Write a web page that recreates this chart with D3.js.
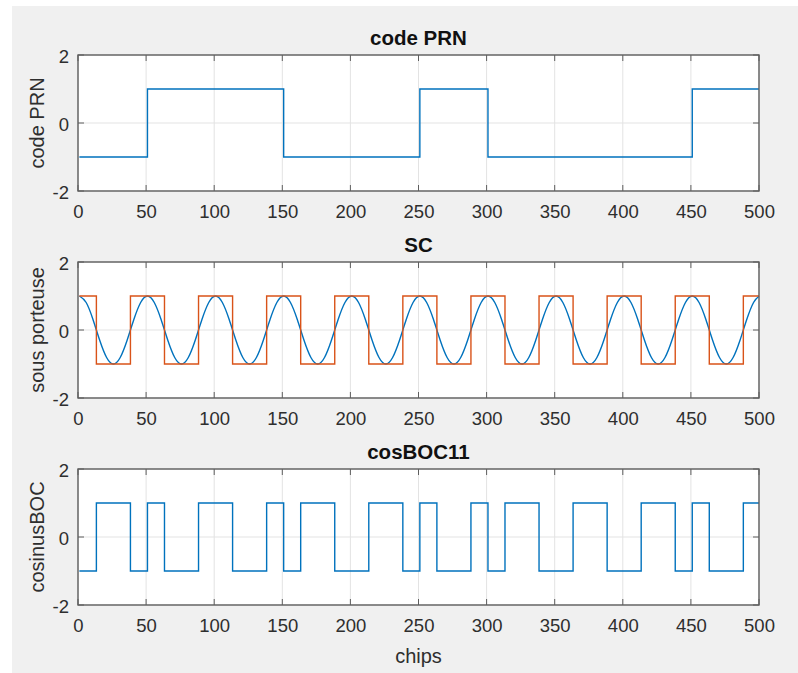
<!DOCTYPE html>
<html>
<head>
<meta charset="utf-8">
<script src="https://cdn.jsdelivr.net/npm/d3@7"></script>
<style>
  html, body { margin: 0; padding: 0; background: #ffffff; }
  svg { display: block; }
  text { font-family: "Liberation Sans", Arial, Helvetica, sans-serif; }
</style>
</head>
<body>
<svg id="fig" width="798" height="673"></svg>
<script>
// ---- data -------------------------------------------------------------
// sample indices run 1..500 ("chips" axis)
const xTicks = [0, 50, 100, 150, 200, 250, 300, 350, 400, 450, 500];
const yTicks = [-2, 0, 2];

// PRN code: [start index, level], each level held until the next start
const prnSteps = [[1, -1], [51, 1], [151, -1], [251, 1], [301, -1], [451, 1]];

// square sub-carrier: [start index, level]
const scSquareSteps = [
  [1, 1], [13.5, -1], [38.5, 1], [63.5, -1], [88.5, 1], [113.5, -1],
  [138.5, 1], [163.5, -1], [188.5, 1], [213.5, -1], [238.5, 1],
  [263.5, -1], [288.5, 1], [313.5, -1], [338.5, 1], [363.5, -1],
  [388.5, 1], [413.5, -1], [438.5, 1], [463.5, -1], [488.5, 1]
];

// cosine sub-carrier, sampled every 5 indices starting at 1, last at 500
const scCosT = [
  1, 6, 11, 16, 21, 26, 31, 36, 41, 46, 51, 56, 61, 66, 71, 76, 81, 86, 91, 96,
  101, 106, 111, 116, 121, 126, 131, 136, 141, 146, 151, 156, 161, 166, 171, 176, 181, 186, 191, 196,
  201, 206, 211, 216, 221, 226, 231, 236, 241, 246, 251, 256, 261, 266, 271, 276, 281, 286, 291, 296,
  301, 306, 311, 316, 321, 326, 331, 336, 341, 346, 351, 356, 361, 366, 371, 376, 381, 386, 391, 396,
  401, 406, 411, 416, 421, 426, 431, 436, 441, 446, 451, 456, 461, 466, 471, 476, 481, 486, 491, 496,
  500
];
const scCosV = [
  1, 0.809, 0.309, -0.309, -0.809, -1, -0.809, -0.309, 0.309, 0.809,
  1, 0.809, 0.309, -0.309, -0.809, -1, -0.809, -0.309, 0.309, 0.809,
  1, 0.809, 0.309, -0.309, -0.809, -1, -0.809, -0.309, 0.309, 0.809,
  1, 0.809, 0.309, -0.309, -0.809, -1, -0.809, -0.309, 0.309, 0.809,
  1, 0.809, 0.309, -0.309, -0.809, -1, -0.809, -0.309, 0.309, 0.809,
  1, 0.809, 0.309, -0.309, -0.809, -1, -0.809, -0.309, 0.309, 0.809,
  1, 0.809, 0.309, -0.309, -0.809, -1, -0.809, -0.309, 0.309, 0.809,
  1, 0.809, 0.309, -0.309, -0.809, -1, -0.809, -0.309, 0.309, 0.809,
  1, 0.809, 0.309, -0.309, -0.809, -1, -0.809, -0.309, 0.309, 0.809,
  1, 0.809, 0.309, -0.309, -0.809, -1, -0.809, -0.309, 0.309, 0.809,
  0.992
];

// cosine BOC(1,1) = PRN x square sub-carrier: [start index, level]
const bocSteps = [
  [1, -1], [13.5, 1], [38.5, -1], [51, 1], [63.5, -1], [88.5, 1],
  [113.5, -1], [138.5, 1], [151, -1], [163.5, 1], [188.5, -1],
  [213.5, 1], [238.5, -1], [251, 1], [263.5, -1], [288.5, 1],
  [301, -1], [313.5, 1], [338.5, -1], [363.5, 1], [388.5, -1],
  [413.5, 1], [438.5, -1], [451, 1], [463.5, -1], [488.5, 1]
];
const lastIndex = 500;

// ---- layout -----------------------------------------------------------
const svg = d3.select("#fig");
const W = 798, H = 673;
const blue = "#0072BD", orange = "#D95319";
const axisColor = "#5e5e5e", textColor = "#2e2e2e", gridColor = "#e3e3e3";

svg.append("rect").attr("x", 12).attr("y", 6).attr("width", W - 12).attr("height", H - 6)
  .attr("fill", "#f0f0f0");

const left = 78, right = 759, plotH = 136;
const x = d3.scaleLinear().domain([0, 500]).range([left, right]);

const panels = [
  { top: 55,  title: "code PRN", ylabel: "code PRN" },
  { top: 262, title: "SC",       ylabel: "sous porteuse" },
  { top: 469, title: "cosBOC11", ylabel: "cosinusBOC" }
];

function stepPoints(steps) {
  const pts = steps.map(d => [d[0], d[1]]);
  pts.push([lastIndex, steps[steps.length - 1][1]]);
  return pts;
}

panels.forEach((p, i) => {
  const y = d3.scaleLinear().domain([-2, 2]).range([p.top + plotH, p.top]);
  const g = svg.append("g");

  g.append("rect").attr("x", left).attr("y", p.top).attr("width", right - left).attr("height", plotH)
    .attr("fill", "#ffffff");

  // grid
  g.append("g").selectAll("line").data(xTicks).join("line")
    .attr("x1", d => x(d)).attr("x2", d => x(d)).attr("y1", p.top).attr("y2", p.top + plotH)
    .attr("stroke", gridColor).attr("stroke-width", 1);
  g.append("g").selectAll("line").data(yTicks).join("line")
    .attr("x1", left).attr("x2", right).attr("y1", d => y(d)).attr("y2", d => y(d))
    .attr("stroke", gridColor).attr("stroke-width", 1);

  // data
  const line = d3.line().x(d => x(d[0])).y(d => y(d[1]));
  const plot = g.append("g");
  if (i === 0) {
    plot.append("path").datum(stepPoints(prnSteps))
      .attr("d", line.curve(d3.curveStepAfter)).attr("fill", "none")
      .attr("stroke", blue).attr("stroke-width", 1.4);
  } else if (i === 1) {
    const cos = scCosT.map((t, k) => [t, scCosV[k]]);
    plot.append("path").datum(cos)
      .attr("d", d3.line().x(d => x(d[0])).y(d => y(d[1])).curve(d3.curveNatural))
      .attr("fill", "none").attr("stroke", blue).attr("stroke-width", 1.4);
    plot.append("path").datum(stepPoints(scSquareSteps))
      .attr("d", d3.line().x(d => x(d[0])).y(d => y(d[1])).curve(d3.curveStepAfter))
      .attr("fill", "none").attr("stroke", orange).attr("stroke-width", 1.4);
  } else {
    plot.append("path").datum(stepPoints(bocSteps))
      .attr("d", line.curve(d3.curveStepAfter)).attr("fill", "none")
      .attr("stroke", blue).attr("stroke-width", 1.4);
  }

  // axes (ticks inward, mirrored on all sides)
  const tickLen = 6;
  const xb = d3.axisBottom(x).tickValues(xTicks).tickSize(0).tickPadding(0).tickFormat(d => String(d));
  const axB = g.append("g").attr("transform", `translate(0,${p.top + plotH})`).call(xb);
  axB.select(".domain").remove();
  axB.selectAll("text").attr("dy", null).attr("y", 27).attr("fill", textColor)
    .style("font-size", "18.5px");

  const yl = d3.axisLeft(y).tickValues(yTicks).tickSize(0).tickPadding(0).tickFormat(d => String(d));
  const axL = g.append("g").attr("transform", `translate(${left},0)`).call(yl);
  axL.select(".domain").remove();
  axL.selectAll("text").attr("x", -9).attr("dy", "0.42em").attr("fill", textColor)
    .style("font-size", "18.5px");

  // tick marks
  const tk = g.append("g").attr("stroke", axisColor).attr("stroke-width", 1);
  xTicks.forEach(t => {
    tk.append("line").attr("x1", x(t)).attr("x2", x(t)).attr("y1", p.top + plotH).attr("y2", p.top + plotH - tickLen);
    tk.append("line").attr("x1", x(t)).attr("x2", x(t)).attr("y1", p.top).attr("y2", p.top + tickLen);
  });
  yTicks.forEach(t => {
    tk.append("line").attr("x1", left).attr("x2", left + tickLen).attr("y1", y(t)).attr("y2", y(t));
    tk.append("line").attr("x1", right).attr("x2", right - tickLen).attr("y1", y(t)).attr("y2", y(t));
  });

  // frame
  g.append("rect").attr("x", left).attr("y", p.top).attr("width", right - left).attr("height", plotH)
    .attr("fill", "none").attr("stroke", axisColor).attr("stroke-width", 1.4);

  // title
  g.append("text").attr("x", (left + right) / 2).attr("y", p.top - 10)
    .attr("text-anchor", "middle").attr("fill", "#111")
    .style("font-size", "20.5px").style("font-weight", "bold").text(p.title);

  // y label
  g.append("text")
    .attr("transform", `translate(44,${p.top + plotH / 2}) rotate(-90)`)
    .attr("text-anchor", "middle").attr("fill", textColor)
    .style("font-size", "20px").text(p.ylabel);
});

// x label
svg.append("text").attr("x", (left + right) / 2).attr("y", 663)
  .attr("text-anchor", "middle").attr("fill", textColor)
  .style("font-size", "20px").text("chips");
</script>
</body>
</html>
